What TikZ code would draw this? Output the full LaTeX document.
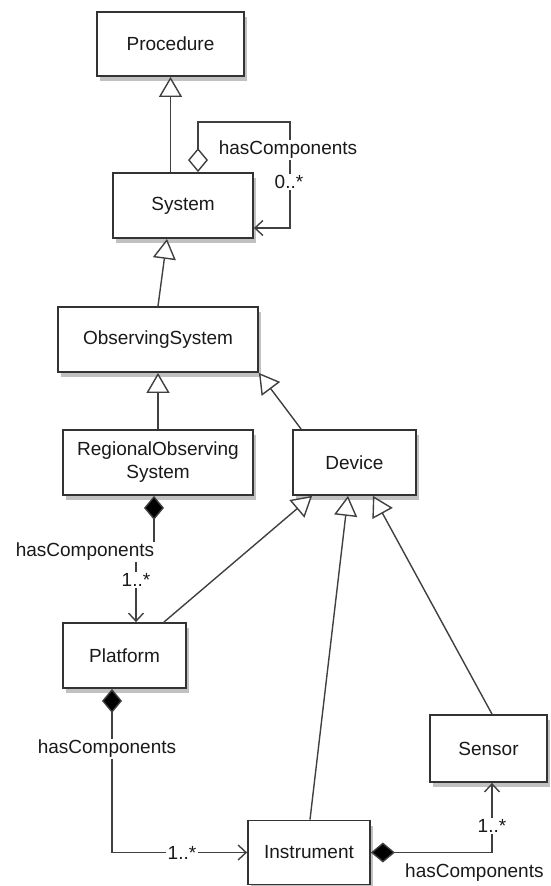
\documentclass[tikz,border=0pt]{standalone}
\usepackage{fontspec}
\setmainfont{Liberation Sans}
\usetikzlibrary{arrows.meta,shadows}
\begin{document}
\begin{tikzpicture}[x=1pt,y=-1pt,
  txt/.style={font=\fontsize{19}{23}\selectfont, text=black!90},
  cls/.style={txt, draw=black!80, line width=1.8pt, fill=white, inner sep=0pt, align=center,
    drop shadow={shadow xshift=3pt,shadow yshift=-5pt,opacity=0.35,fill=black!70}},
  lbl/.style={txt, fill=white, inner sep=1.5pt},
  conn/.style={draw=black!75, line width=1.4pt},
  gen/.style={conn, -{Triangle[open,length=20pt,width=23pt,fill=white]}},
  agg/.style={conn, {Diamond[open,length=24pt,width=20pt,fill=white]}-{Straight Barb[length=8pt,width=15pt]}},
  comp/.style={conn, {Diamond[length=24pt,width=20pt,fill=black]}-{Straight Barb[length=8pt,width=15pt]}}
]
\useasboundingbox (0,0) rectangle (550,886);

% classes
\node[cls, minimum width=147pt, minimum height=64pt] (proc) at (170.5,44) {Procedure};
\node[cls, minimum width=140pt, minimum height=65pt] (sys) at (183,205.5) {System};
\node[cls, minimum width=200pt, minimum height=65pt] (obs) at (158,339.5) {ObservingSystem};
\node[cls, minimum width=190pt, minimum height=65pt] (reg) at (158,462.5) {RegionalObserving\\System};
\node[cls, minimum width=123pt, minimum height=65pt] (dev) at (354.5,462.5) {Device};
\node[cls, minimum width=123pt, minimum height=65pt] (plat) at (124.5,655.5) {Platform};
\node[cls, minimum width=122pt, minimum height=64pt] (inst) at (309,852.5) {Instrument};
\node[cls, minimum width=117pt, minimum height=67pt] (sens) at (488.5,748.5) {Sensor};

% generalizations
\draw[gen] (sys.north -| proc.south) -- (proc.south);
\draw[gen] (obs.north) -- ([xshift=-16pt]sys.south);
\draw[gen] (reg.north) -- (obs.south);
\draw[gen] ([xshift=9pt]dev.north west) -- (obs.south east);
\draw[gen] ([xshift=-23pt]plat.north east) -- ([xshift=20pt]dev.south west);
\draw[gen] ([xshift=1pt]inst.north) -- ([xshift=-6.5pt]dev.south);
\draw[gen] ([xshift=3.5pt]sens.north) -- ([xshift=18.5pt]dev.south);

% self aggregation on System
\coordinate (loop) at (290,122);
\draw[agg] ([xshift=15pt]sys.north) |- (loop) |- ([yshift=-22.5pt]sys.east);
\node[lbl] (l1) at (288,150) {hasComponents};
\node[lbl] (m1) at (289,182) {0..*};

% Regional -> Platform
\coordinate (jog) at (154,552);
\draw[comp] ([xshift=-4pt]reg.south) -- (jog) -| ([xshift=11.5pt]plat.north);
\node[lbl] (l2) at (85,552) {hasComponents};
\node[lbl] (m2) at (136,580) {1..*};

% Platform -> Instrument
\draw[comp] ([xshift=-12.5pt]plat.south) |- (inst.west);
\node[lbl] (l3) at (107,749) {hasComponents};
\node[lbl] (m3) at (182,852.5) {1..*};

% Instrument -> Sensor
\draw[comp] (inst.east) -| ([xshift=3.5pt]sens.south);
\node[lbl] (m4) at (492,826) {1..*};
\node[txt, anchor=west, inner sep=0pt] (l4) at (405,873) {hasComponents};
\end{tikzpicture}
\end{document}
